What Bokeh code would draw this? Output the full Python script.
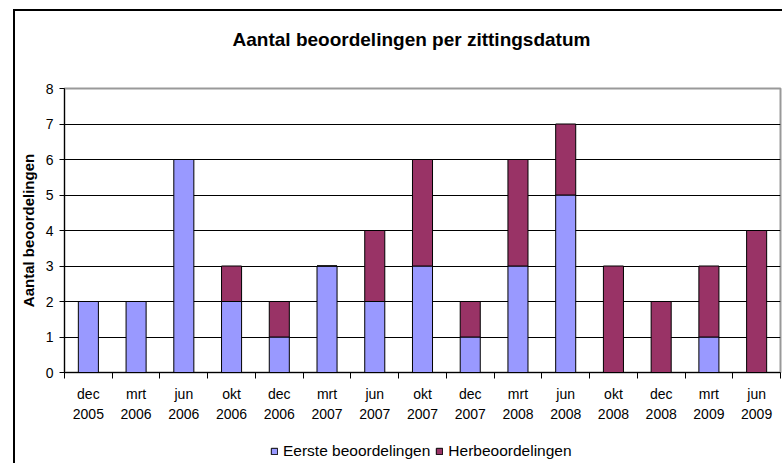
from bokeh.plotting import figure
from bokeh.models import (Range1d, LinearAxis, FixedTicker, Legend, LegendItem,
                          ColumnDataSource, SingleIntervalTicker, Label)
from bokeh.layouts import column
from bokeh.embed import file_html
from bokeh.resources import INLINE

# ---- data ----
months = ["dec", "mrt", "jun", "okt", "dec", "mrt", "jun", "okt",
          "dec", "mrt", "jun", "okt", "dec", "mrt", "jun"]
years = ["2005", "2006", "2006", "2006", "2006", "2007", "2007", "2007",
         "2007", "2008", "2008", "2008", "2008", "2009", "2009"]
eerste = [2, 2, 6, 2, 1, 3, 2, 3, 1, 3, 5, 0, 0, 1, 0]
herbeoordelingen = [0, 0, 0, 1, 1, 0, 2, 3, 1, 3, 2, 3, 2, 2, 4]

title_text = "Aantal beoordelingen per zittingsdatum"
y_label = "Aantal beoordelingen"
series_names = ["Eerste beoordelingen", "Herbeoordelingen"]
colors = ["#9999FF", "#993366"]

n = len(months)
centers = [i + 0.5 for i in range(n)]
bounds = [float(i) for i in range(n + 1)]

src = ColumnDataSource(dict(x=centers, eerste=eerste, herb=herbeoordelingen))

FONT = "Liberation Sans"
W = 767


def strip(height):
    f = figure(width=W, height=height, output_backend="svg", toolbar_location=None,
               x_axis_type=None, y_axis_type=None,
               min_border_left=0, min_border_right=0, min_border_top=0,
               min_border_bottom=0)
    f.outline_line_color = None
    f.background_fill_color = "white"
    f.border_fill_color = "white"
    return f


# ---- title strip ----
pt = strip(56)
pt.x_range = Range1d(0, 1)
pt.y_range = Range1d(0, 1)
pt.add_layout(Label(x=347, y=28, x_units="screen", y_units="screen",
                    text=title_text, text_font=FONT, text_font_style="bold",
                    text_font_size="19px", text_color="#000000",
                    text_align="center", text_baseline="middle"))

# ---- main chart ----
p = figure(width=W, height=368, output_backend="svg", toolbar_location=None,
           x_range=Range1d(0, n), y_range=Range1d(0, 8),
           x_axis_type=None,
           min_border_left=49, min_border_right=2, min_border_top=21,
           min_border_bottom=63)
p.background_fill_color = "white"
p.border_fill_color = "white"
p.outline_line_color = "#999999"
p.outline_line_width = 2

rs = p.vbar_stack(["eerste", "herb"], x="x", width=0.42, source=src,
                  color=colors, line_color="#000000", line_width=1)

yax = p.yaxis[0]
yax.ticker = SingleIntervalTicker(interval=1, num_minor_ticks=0)
yax.axis_label = y_label
yax.axis_label_text_font = FONT
yax.axis_label_text_font_style = "bold"
yax.axis_label_text_font_size = "15px"
yax.axis_label_text_color = "#000000"
yax.axis_label_standoff = 6
yax.major_label_text_font = FONT
yax.major_label_text_font_size = "14px"
yax.major_label_text_color = "#000000"
yax.major_label_standoff = 6
yax.major_tick_out = 5
yax.major_tick_in = 0
yax.minor_tick_out = 0
yax.axis_line_color = "#000000"
yax.major_tick_line_color = "#000000"
p.ygrid.grid_line_color = "#000000"
p.ygrid.grid_line_width = 1

ax1 = LinearAxis(ticker=FixedTicker(ticks=centers, minor_ticks=bounds))
ax1.major_label_overrides = {c: m for c, m in zip(centers, months)}
ax1.major_tick_out = 0
ax1.major_tick_in = 0
ax1.minor_tick_out = 6
ax1.minor_tick_in = 0
ax1.minor_tick_line_color = "#000000"
ax1.axis_line_color = "#000000"
ax1.major_label_standoff = 7
ax1.major_label_text_font = FONT
ax1.major_label_text_font_size = "14px"
ax1.major_label_text_color = "#000000"

ax2 = LinearAxis(ticker=FixedTicker(ticks=centers, minor_ticks=[]))
ax2.major_label_overrides = {c: y for c, y in zip(centers, years)}
ax2.axis_line_color = None
ax2.major_tick_line_color = None
ax2.minor_tick_line_color = None
ax2.major_tick_out = 0
ax2.major_tick_in = 0
ax2.major_label_standoff = 4
ax2.major_label_text_font = FONT
ax2.major_label_text_font_size = "14px"
ax2.major_label_text_color = "#000000"

p.add_layout(ax1, "below")
p.add_layout(ax2, "below")

# ---- legend strip (same series, drawn out of view; only the keys show) ----
pl = strip(28)
pl.x_range = Range1d(0, n)
pl.y_range = Range1d(100, 101)
kr = pl.vbar_stack(["eerste", "herb"], x="x", width=0.42, source=src,
                   color=colors, line_color="#000000", line_width=1)
legend = Legend(items=[LegendItem(label=series_names[0], renderers=[kr[0]]),
                       LegendItem(label=series_names[1], renderers=[kr[1]])],
                location=(206, 3), orientation="horizontal",
                padding=0, margin=0, spacing=5, label_standoff=5,
                glyph_width=8, glyph_height=8, label_height=16,
                label_text_font=FONT, label_text_font_size="15.5px",
                label_text_color="#000000",
                border_line_color=None, background_fill_alpha=0)
pl.add_layout(legend, "center")

# outer chart frame: left and top edges, drawn as the page container's border
layout = column(pt, p, pl, styles={"border-left": "2px solid #000000",
                                   "border-top": "2px solid #000000",
                                   "margin-left": "13px", "margin-top": "9px"})

open("out.html", "w").write(file_html(layout, INLINE))
